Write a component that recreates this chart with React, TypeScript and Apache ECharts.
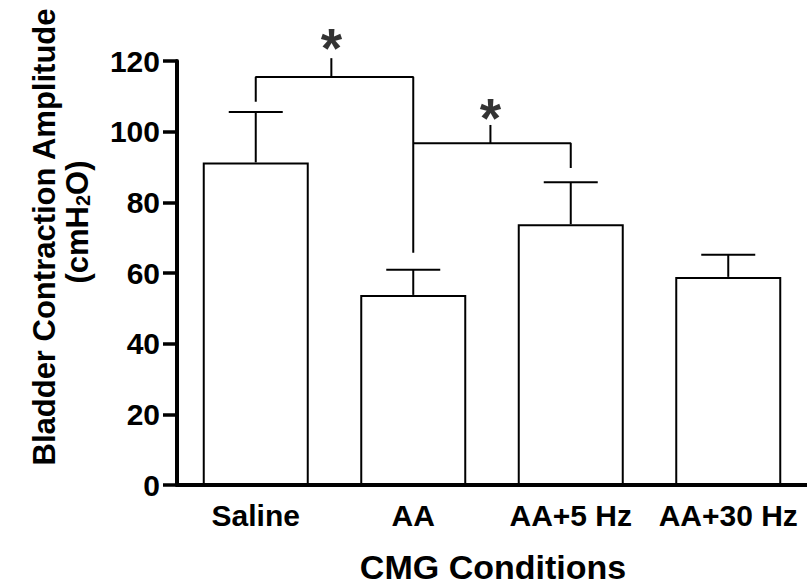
import React, { useEffect, useRef } from "react";
import * as echarts from "echarts";

const categories = ["Saline", "AA", "AA+5 Hz", "AA+30 Hz"];
const means = [91.3, 53.8, 73.8, 58.9];
const sems = [14.3, 7.1, 11.9, 6.3];
const yTicks = { min: 0, max: 120, interval: 20 };

// significance brackets (x in category units, y in cmH2O)
const bracket1 = [[0, 108.5], [0, 115.5], [1, 115.5], [1, 65.7]];
const bracket1Tick = [[0.48, 115.5], [0.48, 120.8]];
const bracket2 = [[1, 96.7], [2, 96.7], [2, 89.7]];
const bracket2Tick = [[1.49, 96.7], [1.49, 101.9]];
const stars = [[0.48, 123.8], [1.49, 103.8]];

const FONT = "Liberation Sans";

export default function App() {
  const ref = useRef<HTMLDivElement>(null);
  useEffect(() => {
    if (!ref.current) return;
    const chart = echarts.init(ref.current, undefined, { renderer: "svg" });
    const lineSeries = (data: number[][]) => ({
      type: "line",
      xAxisIndex: 1,
      data,
      symbol: "none",
      clip: false,
      lineStyle: { color: "#000", width: 2 },
      z: 5,
    });
    chart.setOption({
      animation: false,
      backgroundColor: "#fff",
      grid: { left: 177, top: 61, width: 632, height: 424 },
      xAxis: [
        {
          type: "category",
          data: categories,
          boundaryGap: true,
          axisLine: { onZero: false, lineStyle: { color: "#000", width: 4 } },
          axisTick: { alignWithLabel: true, length: 13, lineStyle: { color: "#000", width: 3.5 } },
          axisLabel: { interval: 0, fontSize: 30, fontWeight: "bold", fontFamily: FONT, color: "#000", margin: 15 },
        },
        { type: "value", min: -0.5, max: 3.5, show: false },
      ],
      yAxis: {
        type: "value",
        min: yTicks.min,
        max: yTicks.max,
        interval: yTicks.interval,
        splitLine: { show: false },
        axisLine: { show: true, onZero: false, lineStyle: { color: "#000", width: 4 } },
        axisTick: { show: true, length: 14, lineStyle: { color: "#000", width: 3.5 } },
        axisLabel: { fontSize: 30, fontWeight: "bold", fontFamily: FONT, color: "#000", margin: 17 },
      },
      series: [
        {
          type: "bar",
          data: means,
          barWidth: 106,
          itemStyle: { color: "#fff", borderColor: "#000", borderWidth: 2 },
          z: 2,
        },
        {
          type: "custom",
          xAxisIndex: 0,
          data: categories.map((_, i) => [i, means[i], means[i] + sems[i]]),
          renderItem: (params: any, api: any) => {
            const base = api.coord([api.value(0), api.value(1)]);
            const top = api.coord([api.value(0), api.value(2)]);
            const st = { stroke: "#000", lineWidth: 2 };
            return {
              type: "group",
              children: [
                { type: "line", shape: { x1: base[0], y1: base[1], x2: top[0], y2: top[1] }, style: st },
                { type: "line", shape: { x1: top[0] - 27, y1: top[1], x2: top[0] + 27, y2: top[1] }, style: st },
              ],
            };
          },
          z: 3,
        },
        lineSeries(bracket1),
        lineSeries(bracket1Tick),
        lineSeries(bracket2),
        lineSeries(bracket2Tick),
        {
          type: "scatter",
          xAxisIndex: 1,
          data: stars,
          symbolSize: 0,
          clip: false,
          itemStyle: { color: "rgba(0,0,0,0)" },
          label: {
            show: true,
            position: "inside",
            formatter: "*",
            fontSize: 55,
            fontWeight: "bold",
            fontFamily: FONT,
            color: "#000",
          },
          labelLayout: { hideOverlap: false },
          z: 6,
        },
      ],
      graphic: [
        {
          type: "text",
          x: 44,
          y: 237,
          rotation: Math.PI / 2,
          style: {
            text: "Bladder Contraction Amplitude",
            fontSize: 31,
            fontWeight: "bold",
            fontFamily: FONT,
            fill: "#000",
            align: "center",
            verticalAlign: "middle",
          },
        },
        {
          type: "text",
          x: 77,
          y: 222,
          rotation: Math.PI / 2,
          style: {
            text: "{m|(cmH}{s|2}{m|O)}",
            align: "center",
            verticalAlign: "middle",
            rich: {
              m: { fontSize: 31, fontWeight: "bold", fontFamily: FONT, fill: "#000", lineHeight: 32 },
              s: { fontSize: 20, fontWeight: "bold", fontFamily: FONT, fill: "#000", lineHeight: 14, verticalAlign: "bottom" },
            },
          },
        },
        {
          type: "text",
          x: 493,
          y: 567,
          style: {
            text: "CMG Conditions",
            fontSize: 34,
            fontWeight: "bold",
            fontFamily: FONT,
            fill: "#000",
            align: "center",
            verticalAlign: "middle",
          },
        },
      ],
    });
    return () => chart.dispose();
  }, []);
  return (
    <div
      ref={ref}
      style={{ position: "fixed", left: 0, top: 0, width: 807, height: 587, background: "#fff" }}
    />
  );
}
